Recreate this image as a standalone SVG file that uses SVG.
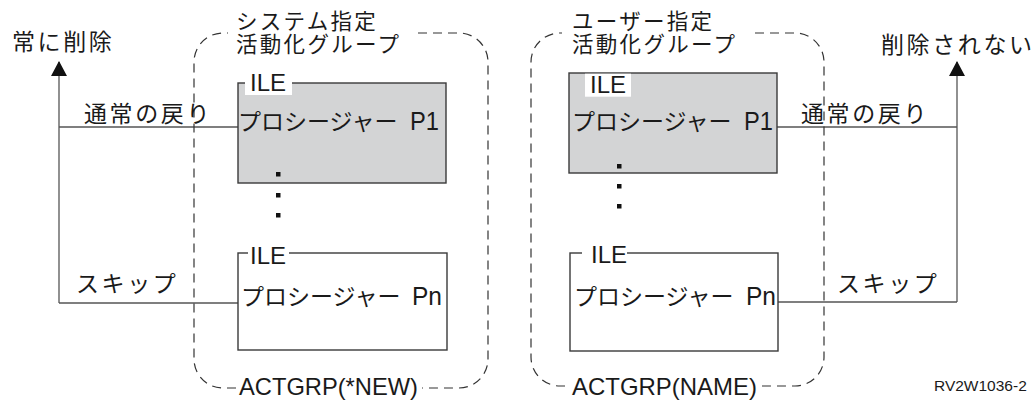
<svg xmlns="http://www.w3.org/2000/svg" width="1034" height="409" viewBox="0 0 1034 409">
<style>
.jp{font-family:"Noto Sans CJK JP","Liberation Sans",sans-serif;font-size:23px;letter-spacing:2.6px;fill:#1a1a1a}
.ttl{font-family:"Noto Sans CJK JP","Liberation Sans",sans-serif;font-size:21.5px;letter-spacing:2.3px;fill:#1a1a1a}
.proc{font-family:"Noto Sans CJK JP","Liberation Sans",sans-serif;font-size:23px;letter-spacing:0px;fill:#1a1a1a}
.lat{font-family:"Liberation Sans",Arial,sans-serif;fill:#1a1a1a}
.dash{fill:none;stroke:#333;stroke-width:1.2;stroke-dasharray:9 6}
.box{stroke:#3a3a3a;stroke-width:1.4}
.conn{fill:none;stroke:#555;stroke-width:1.3}
.dot{fill:#111}
</style>
<defs>
<marker id="arr" markerUnits="userSpaceOnUse" markerWidth="16" markerHeight="16" refX="14" refY="8" orient="auto" viewBox="0 0 16 16">
<path d="M0,0 L15,8 L0,16 Z" fill="#111"/>
</marker>
</defs>
<rect width="1034" height="409" fill="#fff"/>

<g id="connectors">
<path class="conn" d="M59,303 V62" marker-end="url(#arr)"/>
<path class="conn" d="M59,127 H238"/>
<path class="conn" d="M59,303 H238"/>
<path class="conn" d="M957,302 V62" marker-end="url(#arr)"/>
<path class="conn" d="M777,127 H957"/>
<path class="conn" d="M778,302 H957"/>
</g>

<g id="group-system">
<path class="dash" d="M418,33 H459 A29,29 0 0 1 488,62 V359 A29,29 0 0 1 459,388 H422"/>
<path class="dash" d="M236,388 H223 A29,29 0 0 1 194,359 V62 A29,29 0 0 1 223,33 H228"/>
<text class="ttl" x="236" y="28.5">システム指定</text>
<text class="ttl" x="236" y="52">活動化グループ</text>
<text class="lat" x="239" y="395" font-size="24.5" textLength="179" lengthAdjust="spacingAndGlyphs">ACTGRP(*NEW)</text>
</g>

<g id="sys-p1">
<rect class="box" x="238" y="83" width="208" height="100" fill="#d3d4d5"/>
<rect x="245" y="72" width="47" height="23" fill="#fff"/>
<text class="lat" x="250" y="91" font-size="24">ILE</text>
<text class="proc" x="238" y="130">プロシージャー <tspan class="lat" x="410" font-size="26" textLength="29" lengthAdjust="spacingAndGlyphs">P1</tspan></text>
</g>

<g id="sys-dots">
<rect class="dot" x="276" y="172" width="4.5" height="4.5"/>
<rect class="dot" x="276" y="193" width="4.5" height="4.5"/>
<rect class="dot" x="276" y="213" width="4.5" height="4.5"/>
</g>

<g id="sys-pn">
<rect x="238" y="253" width="209" height="97" fill="#fff" class="box"/>
<rect x="248" y="243" width="41" height="20" fill="#fff"/>
<text class="lat" x="250" y="264" font-size="24">ILE</text>
<text class="proc" x="241" y="305">プロシージャー <tspan class="lat" x="412" font-size="26" textLength="30" lengthAdjust="spacingAndGlyphs">Pn</tspan></text>
</g>

<g id="group-user">
<path class="dash" d="M755,33 H795 A29,29 0 0 1 824,62 V357 A29,29 0 0 1 795,386 H760"/>
<path class="dash" d="M565,386 H560 A29,29 0 0 1 531,357 V62 A29,29 0 0 1 560,33 H562"/>
<text class="ttl" x="572" y="28.5">ユーザー指定</text>
<text class="ttl" x="572" y="52">活動化グループ</text>
<text class="lat" x="572" y="395" font-size="24.5" textLength="185" lengthAdjust="spacingAndGlyphs">ACTGRP(NAME)</text>
</g>

<g id="user-p1">
<rect class="box" x="569" y="73" width="208" height="100" fill="#d3d4d5"/>
<rect x="585" y="73.7" width="46" height="23" fill="#fff"/>
<text class="lat" x="590" y="93" font-size="24">ILE</text>
<text class="proc" x="572" y="130">プロシージャー <tspan class="lat" x="744" font-size="26" textLength="29" lengthAdjust="spacingAndGlyphs">P1</tspan></text>
</g>

<g id="user-dots">
<rect class="dot" x="617" y="164" width="4.5" height="4.5"/>
<rect class="dot" x="617" y="184" width="4.5" height="4.5"/>
<rect class="dot" x="617" y="204" width="4.5" height="4.5"/>
</g>

<g id="user-pn">
<rect x="570" y="253" width="208" height="98" fill="#fff" class="box"/>
<rect x="582" y="243" width="45" height="20" fill="#fff"/>
<text class="lat" x="591" y="263" font-size="24">ILE</text>
<text class="proc" x="574" y="305">プロシージャー <tspan class="lat" x="746" font-size="26" textLength="30" lengthAdjust="spacingAndGlyphs">Pn</tspan></text>
</g>

<g id="labels">
<text class="jp" x="12" y="50">常に削除</text>
<text class="jp" x="84" y="122">通常の戻り</text>
<text class="jp" x="76" y="292">スキップ</text>
<text class="jp" x="881" y="53">削除されない</text>
<text class="jp" x="801" y="122">通常の戻り</text>
<text class="jp" x="837" y="292">スキップ</text>
<text class="lat" x="934" y="391" font-size="15.5">RV2W1036-2</text>
</g>
</svg>
